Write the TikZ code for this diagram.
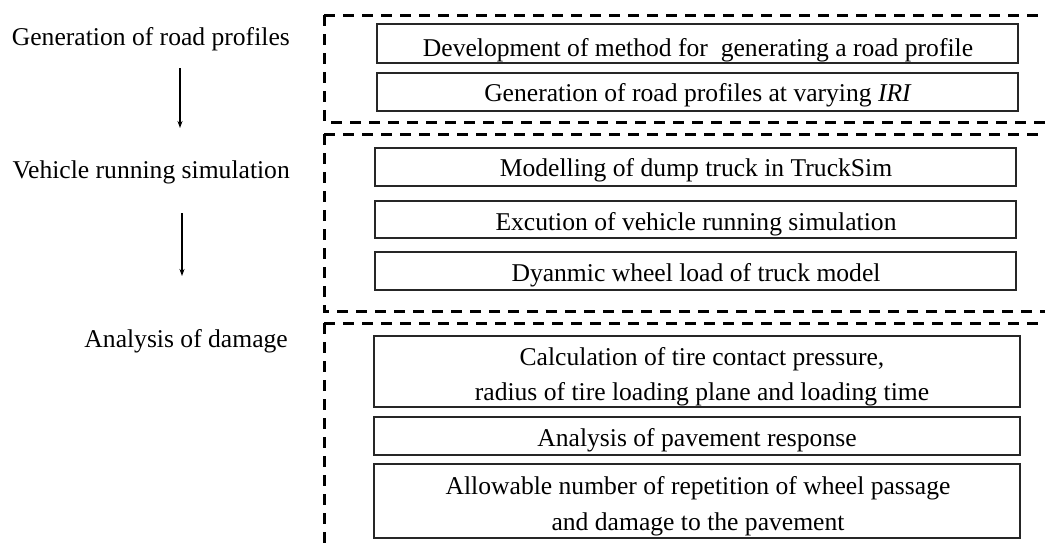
\documentclass[tikz,border=0pt]{standalone}
\usepackage{fontspec}
\setmainfont{Liberation Serif}
\usetikzlibrary{arrows.meta}
\begin{document}
\begin{tikzpicture}[x=1pt,y=-1pt,
  stepbox/.style={draw=black!85, line width=1.3pt, inner sep=0pt, minimum width=641pt},
  wide/.style={minimum width=646pt},
  group/.style={line width=3pt, dash pattern=on 10.5pt off 8.5pt},
  txt/.style={font=\fontsize{25.6}{36}\selectfont, inner sep=0pt, anchor=base},
  stage/.style={font=\fontsize{25.6}{36}\selectfont, inner sep=0pt, anchor=base east},
  arr/.style={line width=1.1pt, -{Stealth[length=7pt,width=5pt]}}
]
\useasboundingbox (0,0) rectangle (1045,547);

% stage groups: dashed frames open to the right
\draw[group] (324,15) -- (1045,15);
\draw[group] (324,15) -- (324,122) -- (1045,122);
\draw[group] (324,134) -- (1045,134);
\draw[group] (324,134) -- (324,311) -- (1045,311);
\draw[group] (324,323) -- (1045,323);
\draw[group] (324,323) -- (324,547);

% road profile generation
\node[stepbox, minimum height=39pt] (b1) at (697.5,43.5) {};
\node[txt] (t1) at (698,56) {Development of method for\ \ generating a road profile};
\node[stepbox, minimum height=38pt] (b2) at (697.5,92) {};
\node[txt] (t2) at (698,101.5) {Generation of road profiles at varying \textit{IRI}};

% vehicle running simulation
\node[stepbox, minimum height=38pt] (b3) at (695.5,167) {};
\node[txt] (t3) at (696,176.5) {Modelling of dump truck in TruckSim};
\node[stepbox, minimum height=37pt] (b4) at (695.5,219.5) {};
\node[txt] (t4) at (696,230) {Excution of vehicle running simulation};
\node[stepbox, minimum height=38pt] (b5) at (695.5,271) {};
\node[txt] (t5) at (696,281.5) {Dyanmic wheel load of truck model};

% damage analysis
\node[stepbox, wide, minimum height=71pt] (b6) at (697,371.5) {};
\node[txt] (t6a) at (702,365) {Calculation of tire contact pressure,};
\node[txt] (t6b) at (702,400) {radius of tire loading plane and loading time};
\node[stepbox, wide, minimum height=38pt] (b7) at (697,436) {};
\node[txt] (t7) at (697,446.5) {Analysis of pavement response};
\node[stepbox, wide, minimum height=74pt] (b8) at (697,501) {};
\node[txt] (t8a) at (698,494) {Allowable number of repetition of wheel passage};
\node[txt] (t8b) at (698,530) {and damage to the pavement};

% stage titles and flow
\node[stage] (s1) at (290,45) {Generation of road profiles};
\node[stage] (s2) at (290,178) {Vehicle running simulation};
\node[stage] (s3) at (288,347) {Analysis of damage};

\coordinate (a1s) at (180,68);
\coordinate (a1e) at (180,128);
\coordinate (a2s) at (182,213);
\coordinate (a2e) at (182,276);
\draw[arr] (a1s) -- (a1e);
\draw[arr] (a2s) -- (a2e);
\end{tikzpicture}
\end{document}
